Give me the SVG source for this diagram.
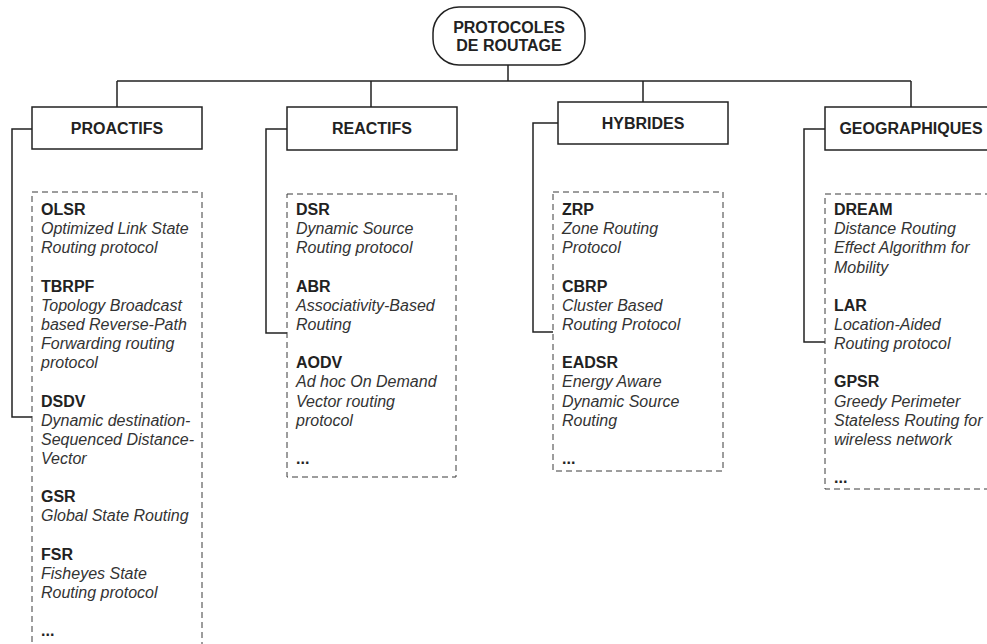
<svg xmlns="http://www.w3.org/2000/svg" width="987" height="644" viewBox="0 0 987 644">
<style>
.bg{fill:#ffffff}
.solid{fill:#ffffff;stroke:#222;stroke-width:1.5}
.dash{fill:none;stroke:#3a3a3a;stroke-width:1;stroke-dasharray:6,4}
.conn{fill:none;stroke:#222;stroke-width:1.5}
.h{font-family:"Liberation Sans",Arial,sans-serif;font-size:16px;font-weight:bold;fill:#222;text-anchor:middle}
.t{font-family:"Liberation Sans",Arial,sans-serif;font-size:16px;font-weight:bold;fill:#222}
.d{font-family:"Liberation Sans",Arial,sans-serif;font-size:16px;font-style:italic;fill:#333}
</style>
<rect class="bg" x="0" y="0" width="987" height="644"/>
<g id="connectors">
<path class="conn" d="M508,65 V81 M117,81 H911 M117,81 V107 M371,81 V107 M643,81 V102 M911,81 V107"/>
<path class="conn" d="M32,129 H12 V417 H32"/>
<path class="conn" d="M287,129 H266 V333 H287"/>
<path class="conn" d="M558,123 H533 V332 H553"/>
<path class="conn" d="M825,129 H804 V342 H825"/>
</g>
<g id="root">
<rect class="solid" x="433" y="7" width="152" height="58" rx="26" ry="26"/>
<text class="h" x="509" y="33">PROTOCOLES</text>
<text class="h" x="509" y="51">DE ROUTAGE</text>
</g>
<g id="proactifs">
<rect class="solid" x="32" y="107" width="170" height="42"/>
<text class="h" x="117" y="134">PROACTIFS</text>
</g>
<g id="reactifs">
<rect class="solid" x="287" y="107" width="170" height="43"/>
<text class="h" x="372" y="134">REACTIFS</text>
</g>
<g id="hybrides">
<rect class="solid" x="558" y="102" width="170" height="42"/>
<text class="h" x="643" y="129">HYBRIDES</text>
</g>
<g id="geographiques">
<rect class="solid" x="825" y="107" width="180" height="43"/>
<text class="h" x="911" y="134">GEOGRAPHIQUES</text>
</g>
<g id="proactifs-list">
<rect class="dash" x="32" y="192" width="170" height="470"/>
<text class="t" x="41" y="215">OLSR</text>
<text class="d" x="41" y="234.2">Optimized Link State</text>
<text class="d" x="41" y="253.3">Routing protocol</text>
<text class="t" x="41" y="291.6">TBRPF</text>
<text class="d" x="41" y="310.8">Topology Broadcast</text>
<text class="d" x="41" y="329.9">based Reverse-Path</text>
<text class="d" x="41" y="349.1">Forwarding routing</text>
<text class="d" x="41" y="368.2">protocol</text>
<text class="t" x="41" y="406.5">DSDV</text>
<text class="d" x="41" y="425.7">Dynamic destination-</text>
<text class="d" x="41" y="444.8">Sequenced Distance-</text>
<text class="d" x="41" y="464">Vector</text>
<text class="t" x="41" y="502.3">GSR</text>
<text class="d" x="41" y="521.4">Global State Routing</text>
<text class="t" x="41" y="559.7">FSR</text>
<text class="d" x="41" y="578.9">Fisheyes State</text>
<text class="d" x="41" y="598">Routing protocol</text>
<text class="t" x="41" y="636.3">...</text>
</g>
<g id="reactifs-list">
<rect class="dash" x="287" y="194" width="169" height="283"/>
<text class="t" x="296" y="215">DSR</text>
<text class="d" x="296" y="234.2">Dynamic Source</text>
<text class="d" x="296" y="253.3">Routing protocol</text>
<text class="t" x="296" y="291.6">ABR</text>
<text class="d" x="296" y="310.8">Associativity-Based</text>
<text class="d" x="296" y="329.9">Routing</text>
<text class="t" x="296" y="368.2">AODV</text>
<text class="d" x="296" y="387.4">Ad hoc On Demand</text>
<text class="d" x="296" y="406.5">Vector routing</text>
<text class="d" x="296" y="425.7">protocol</text>
<text class="t" x="296" y="464">...</text>
</g>
<g id="hybrides-list">
<rect class="dash" x="553" y="192" width="170" height="279"/>
<text class="t" x="562" y="215">ZRP</text>
<text class="d" x="562" y="234.2">Zone Routing</text>
<text class="d" x="562" y="253.3">Protocol</text>
<text class="t" x="562" y="291.6">CBRP</text>
<text class="d" x="562" y="310.8">Cluster Based</text>
<text class="d" x="562" y="329.9">Routing Protocol</text>
<text class="t" x="562" y="368.2">EADSR</text>
<text class="d" x="562" y="387.4">Energy Aware</text>
<text class="d" x="562" y="406.5">Dynamic Source</text>
<text class="d" x="562" y="425.7">Routing</text>
<text class="t" x="562" y="464">...</text>
</g>
<g id="geographiques-list">
<rect class="dash" x="825" y="194" width="180" height="295"/>
<text class="t" x="834" y="215">DREAM</text>
<text class="d" x="834" y="234.2">Distance Routing</text>
<text class="d" x="834" y="253.3">Effect Algorithm for</text>
<text class="d" x="834" y="272.5">Mobility</text>
<text class="t" x="834" y="310.8">LAR</text>
<text class="d" x="834" y="329.9">Location-Aided</text>
<text class="d" x="834" y="349.1">Routing protocol</text>
<text class="t" x="834" y="387.4">GPSR</text>
<text class="d" x="834" y="406.5">Greedy Perimeter</text>
<text class="d" x="834" y="425.7">Stateless Routing for</text>
<text class="d" x="834" y="444.8">wireless network</text>
<text class="t" x="834" y="483.1">...</text>
</g>
</svg>
